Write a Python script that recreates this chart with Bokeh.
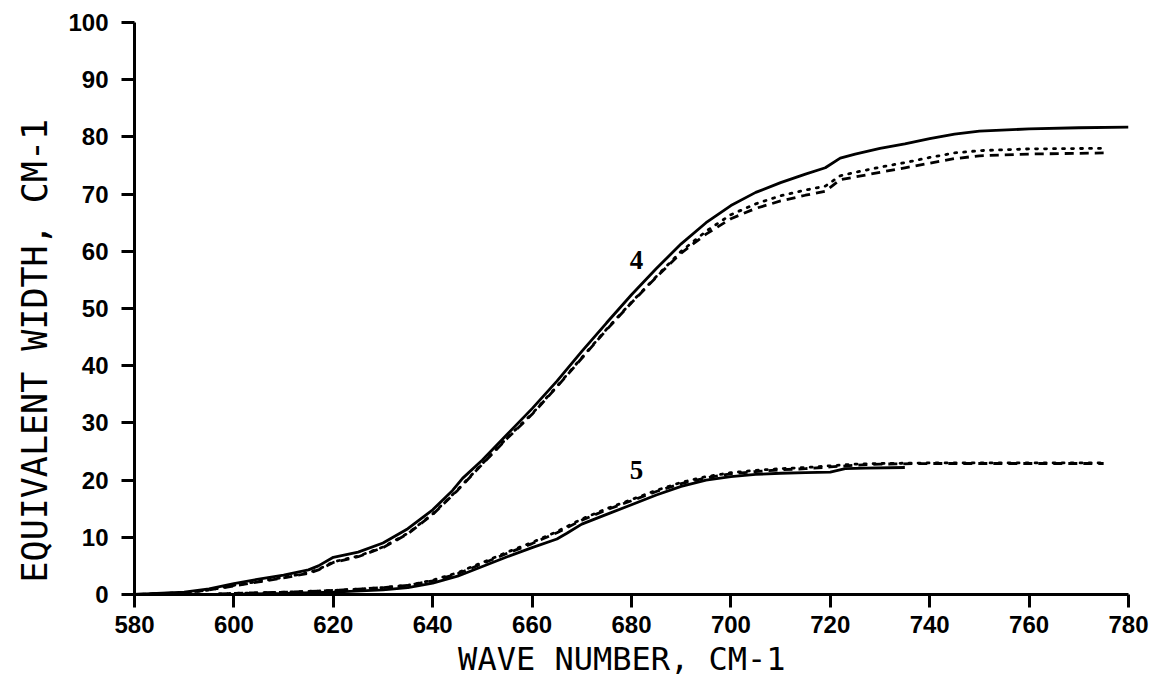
from bokeh.plotting import figure
from bokeh.models import Range1d, FixedTicker, Title, ColumnDataSource
from bokeh.embed import file_html
from bokeh.resources import INLINE
from bokeh.core.properties import value

# ---- data ----
x_ticks = [580, 600, 620, 640, 660, 680, 700, 720, 740, 760, 780]
y_ticks = [0, 10, 20, 30, 40, 50, 60, 70, 80, 90, 100]

x4_solid = [580, 590, 595, 600, 605, 610, 615, 617, 620, 625, 630, 635, 640, 644, 646, 650, 655, 660, 665,
            670, 675, 680, 685, 690, 695, 700, 705, 710, 715, 719, 722, 725, 730, 735, 740, 745, 750, 760, 770, 780]
y4_solid = [0, 0.4, 1.0, 1.9, 2.7, 3.4, 4.3, 5.0, 6.5, 7.4, 9.0, 11.5, 14.8, 18.2, 20.3, 23.5, 28.0, 32.5, 37.3,
            42.5, 47.5, 52.4, 57.0, 61.3, 65.0, 68.0, 70.3, 72.0, 73.5, 74.6, 76.3, 77.0, 78.0, 78.8, 79.7, 80.5, 81.0,
            81.4, 81.6, 81.7]

x4_dash = [580, 590, 595, 600, 605, 610, 615, 617, 620, 625, 630, 635, 640, 645, 650, 655, 660, 665, 670, 675,
           680, 685, 690, 695, 700, 705, 710, 715, 719, 722, 725, 730, 735, 740, 745, 750, 760, 775]
y4_dash = [0, 0.3, 0.8, 1.5, 2.2, 2.9, 3.7, 4.3, 5.6, 6.6, 8.2, 10.6, 14.0, 18.2, 22.8, 27.3, 31.5, 36.3, 41.3,
           46.3, 51.0, 55.5, 59.7, 63.0, 65.7, 67.5, 68.8, 69.8, 70.5, 72.5, 73.0, 73.8, 74.6, 75.4, 76.2, 76.7,
           77.0, 77.2]
y4_dot = [0, 0.3, 0.8, 1.6, 2.3, 3.0, 3.8, 4.4, 5.7, 6.7, 8.3, 10.7, 14.1, 18.3, 22.9, 27.4, 31.6, 36.4, 41.4,
          46.4, 51.1, 55.6, 60.0, 63.5, 66.4, 68.3, 69.7, 70.7, 71.4, 73.2, 73.8, 74.7, 75.5, 76.4, 77.2, 77.6,
          77.9, 78.0]

x5_solid = [580, 600, 610, 620, 630, 635, 640, 645, 650, 655, 660, 665, 667, 670, 675, 680, 685, 690, 695, 700,
            705, 710, 715, 720, 723, 727, 735]
y5_solid = [0, 0.05, 0.2, 0.4, 0.8, 1.2, 2.0, 3.2, 4.9, 6.6, 8.2, 9.7, 10.7, 12.3, 14.0, 15.7, 17.4, 18.9, 20.0,
            20.6, 21.0, 21.2, 21.3, 21.4, 22.0, 22.1, 22.2]

x5_dash = [597, 600, 610, 620, 630, 635, 640, 645, 650, 655, 660, 665, 670, 675, 680, 685, 690, 695, 700, 705,
           710, 715, 720, 725, 730, 740, 750, 760, 775]
y5_dash = [0.1, 0.2, 0.4, 0.7, 1.2, 1.6, 2.4, 3.6, 5.4, 7.2, 8.9, 10.8, 13.0, 14.8, 16.4, 18.0, 19.4, 20.4,
           21.1, 21.5, 21.8, 22.0, 22.3, 22.6, 22.8, 22.9, 22.9, 22.9, 22.9]
y5_dot = [0.1, 0.2, 0.4, 0.7, 1.2, 1.6, 2.5, 3.8, 5.6, 7.4, 9.1, 11.0, 13.2, 15.0, 16.6, 18.2, 19.6, 20.6,
          21.3, 21.7, 22.0, 22.2, 22.5, 22.8, 22.9, 23.0, 23.0, 23.0, 23.0]

band_labels = ["4", "5"]
band_label_x = [681, 681]
band_label_y = [58.5, 21.7]

x_title = "WAVE NUMBER,  CM-1"
y_title = "EQUIVALENT WIDTH,  CM-1"

# ---- figure ----
p = figure(width=1153, height=682, output_backend="svg", toolbar_location=None,
           x_range=Range1d(580, 780), y_range=Range1d(0, 100),
           min_border_left=134, min_border_right=25, min_border_top=22, min_border_bottom=88)
p.outline_line_color = None
p.xgrid.visible = False
p.ygrid.visible = False
p.background_fill_color = "white"
p.border_fill_color = "white"

for ax in (p.xaxis[0], p.yaxis[0]):
    ax.axis_line_width = 3
    ax.axis_line_color = "black"
    ax.major_tick_line_width = 3
    ax.major_tick_line_color = "black"
    ax.major_tick_out = 13
    ax.major_tick_in = 0
    ax.minor_tick_out = 0
    ax.minor_tick_in = 0
    ax.major_label_text_font = "Liberation Sans"
    ax.major_label_text_font_style = "bold"
    ax.major_label_text_font_size = "24px"
    ax.major_label_text_color = "black"

p.xaxis.major_label_standoff = 8
p.yaxis.major_label_standoff = 13

p.xaxis.ticker = FixedTicker(ticks=x_ticks)
p.yaxis.ticker = FixedTicker(ticks=y_ticks)

p.xaxis.axis_label = x_title
p.xaxis.axis_label_text_font = "DejaVu Sans Mono"
p.xaxis.axis_label_text_font_style = "normal"
p.xaxis.axis_label_text_font_size = "32px"
p.xaxis.axis_label_text_color = "black"
p.xaxis.axis_label_standoff = 4

# curves
p.line(x4_solid, y4_solid, line_color="black", line_width=2.8)
p.line(x4_dash, y4_dash, line_color="black", line_width=2.8, line_dash="9 6")
p.line(x4_dash, y4_dot, line_color="black", line_width=2.8, line_dash="2 7", line_cap="round")
p.line(x5_solid, y5_solid, line_color="black", line_width=2.8)
p.line(x5_dash, y5_dash, line_color="black", line_width=2.8, line_dash="9 6")
p.line(x5_dash, y5_dot, line_color="black", line_width=2.8, line_dash="2 7", line_cap="round")

src = ColumnDataSource(dict(x=band_label_x, y=band_label_y, t=band_labels))
p.text(x="x", y="y", text="t", source=src, text_font=value("Liberation Serif"),
       text_font_style="bold", text_font_size="27px", text_align="center",
       text_baseline="middle", text_color="black")

# y-axis title, starting a little above the x axis like the original
p.add_layout(Title(text=y_title, align="left", offset=12, standoff=21,
                   text_font="DejaVu Sans Mono", text_font_size="35px",
                   text_font_style="normal", text_color="black"), "left")

open("out.html", "w").write(file_html(p, INLINE))
